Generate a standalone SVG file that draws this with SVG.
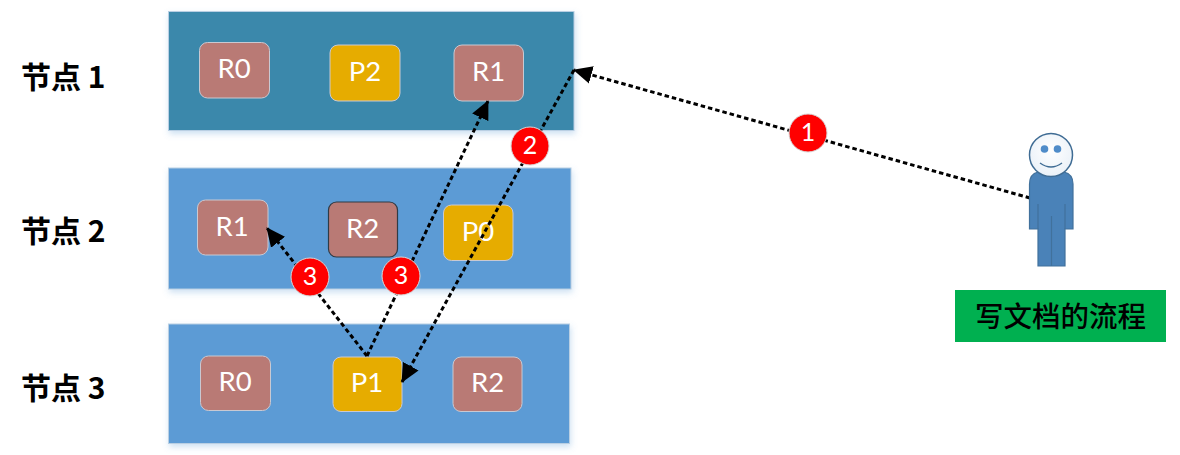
<svg xmlns="http://www.w3.org/2000/svg" width="1180" height="455" viewBox="0 0 1180 455">
  <style>
    .band { stroke: #b9cfe3; stroke-width: 1; filter: url(#soft); }
    .chip { stroke: #c9c9d2; stroke-width: 1; }
    .replica { fill: #b97a75; }
    .primary { fill: #e6ac00; }
    .chip-text { font: 27.500px Lato, "Liberation Sans", sans-serif; fill: #fff; text-anchor: middle; }
    .node-title { font: bold 30px "Noto Sans CJK SC", sans-serif; fill: #000; }
    .link { fill: none; stroke: #000; stroke-width: 3; stroke-dasharray: 4.500 3; }
    .badge { fill: #ff0000; stroke: #d8d8d8; stroke-width: 1; }
    .badge-text { font: 25px Lato, "Liberation Sans", sans-serif; fill: #fff; text-anchor: middle; }
    .figure { fill: #4a82b8; stroke: #41719c; stroke-width: 1.200; }
  </style>
  <defs>
    <filter id="soft" x="-5%" y="-10%" width="110%" height="125%">
      <feDropShadow dx="1" dy="3" stdDeviation="3" flood-color="#5b9bd5" flood-opacity="0.3"/>
    </filter>
    <marker id="arrow" viewBox="0 0 10 10" refX="9.500" refY="5" markerUnits="userSpaceOnUse" markerWidth="19" markerHeight="19" orient="auto">
      <path d="M0 0.300L10 5L0 9.700Z" fill="#000"/>
    </marker>
    <radialGradient id="faceFill" cx="0.5" cy="0.4" r="0.6">
      <stop offset="0" stop-color="#ffffff"/>
      <stop offset="1" stop-color="#eaf1f8"/>
    </radialGradient>
  </defs>

  <g id="node-1">
    <rect class="band" x="168.500" y="11.500" width="405.500" height="119" fill="#3a88ab"/>
    <text class="node-title" x="21" y="88">节点 1</text>
    <g id="n1-r0"><rect class="chip replica" x="199.500" y="42.500" width="70" height="55.500" rx="8"/><text class="chip-text" x="234" y="78">R0</text></g>
    <g id="n1-p2"><rect class="chip primary" x="330" y="45" width="70" height="56" rx="8"/><text class="chip-text" x="365" y="81">P2</text></g>
    <g id="n1-r1"><rect class="chip replica" x="454" y="45" width="69.500" height="56" rx="8"/><text class="chip-text" x="488.500" y="81">R1</text></g>
  </g>

  <g id="node-2">
    <rect class="band" x="168.500" y="168" width="402.500" height="121" fill="#5b9bd5"/>
    <text class="node-title" x="21" y="242">节点 2</text>
    <g id="n2-r1"><rect class="chip replica" x="197.500" y="200" width="70.500" height="55" rx="8"/><text class="chip-text" x="232" y="236">R1</text></g>
    <g id="n2-r2"><rect class="replica" x="328.500" y="202" width="69" height="55" rx="8" stroke="#2f3b46" stroke-width="1.200"/><text class="chip-text" x="362.500" y="238">R2</text></g>
    <g id="n2-p0"><rect class="chip primary" x="443.500" y="205" width="69.500" height="55.500" rx="8"/><text class="chip-text" x="478" y="241">P0</text></g>
  </g>

  <g id="node-3">
    <rect class="band" x="168.500" y="324" width="401" height="119.500" fill="#5b9bd5"/>
    <text class="node-title" x="21" y="399">节点 3</text>
    <g id="n3-r0"><rect class="chip replica" x="200.500" y="356" width="70" height="54.500" rx="8"/><text class="chip-text" x="235" y="391">R0</text></g>
    <g id="n3-p1"><rect class="chip primary" x="333" y="357" width="69" height="54.500" rx="8"/><text class="chip-text" x="367" y="392">P1</text></g>
    <g id="n3-r2"><rect class="chip replica" x="453" y="357" width="69" height="54.500" rx="8"/><text class="chip-text" x="487.500" y="392">R2</text></g>
  </g>

  <g id="connectors">
    <path class="link" d="M1030 198L574 70" marker-end="url(#arrow)"/>
    <path class="link" d="M574 70L402 382" marker-end="url(#arrow)"/>
    <path class="link" d="M367 356L267 228" marker-end="url(#arrow)"/>
    <path class="link" d="M367 356L488 101" marker-end="url(#arrow)"/>
  </g>

  <g id="badges">
    <g id="step-1"><circle class="badge" cx="808" cy="133" r="19"/><text class="badge-text" x="808" y="141">1</text></g>
    <g id="step-2"><circle class="badge" cx="530" cy="146" r="19"/><text class="badge-text" x="530" y="154">2</text></g>
    <g id="step-3a"><circle class="badge" cx="310" cy="277" r="19"/><text class="badge-text" x="310" y="285">3</text></g>
    <g id="step-3b"><circle class="badge" cx="401" cy="276" r="19"/><text class="badge-text" x="401" y="284">3</text></g>
  </g>

  <g id="writer">
    <path class="figure" d="M1038 172H1064Q1073 174 1073 184V229H1065V266H1038V229H1029.500V184Q1029.500 174 1038 172Z"/>
    <path d="M1038 204V229M1065 204V229M1051.500 216V266" fill="none" stroke="#41719c" stroke-width="1.200"/>
    <circle cx="1051" cy="155" r="21.500" fill="url(#faceFill)" stroke="#3f6c94" stroke-width="1.500"/>
    <circle cx="1044.500" cy="149" r="3.800" fill="#4f8cc9"/>
    <circle cx="1057.500" cy="149" r="3.800" fill="#4f8cc9"/>
    <path d="M1040 163Q1051 171 1062 163" fill="none" stroke="#3f6c94" stroke-width="1.500"/>
  </g>

  <g id="caption">
    <rect x="955" y="290" width="211" height="52" fill="#00b050"/>
    <text x="1060.500" y="327" font-family="'Noto Sans CJK SC', sans-serif" font-size="28.500" font-weight="500" text-anchor="middle" fill="#000">写文档的流程</text>
  </g>
</svg>
